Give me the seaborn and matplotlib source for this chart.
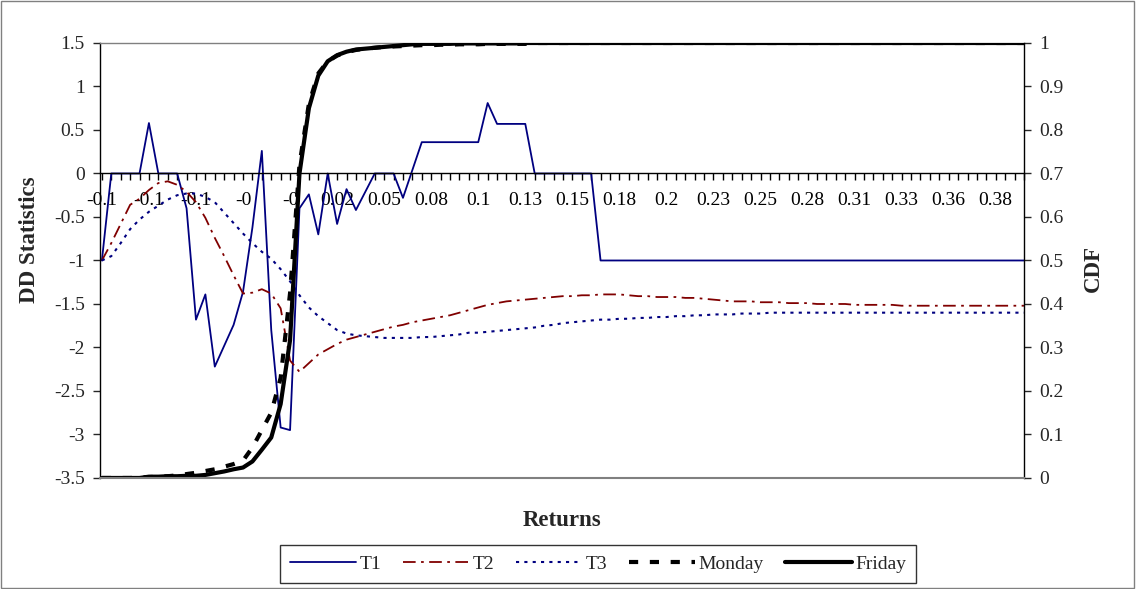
import numpy as np
import pandas as pd
import seaborn as sns
import matplotlib
matplotlib.use("Agg")
import matplotlib.pyplot as plt
from matplotlib.ticker import FuncFormatter, MultipleLocator

# =========================================
# DATA
# =========================================

# category labels shown on the x axis (one every 5 categories)
return_labels = ["-0.1", "-0.1", "-0.1", "-0", "-0", "0.02", "0.05", "0.08", "0.1", "0.13",
                 "0.15", "0.18", "0.2", "0.23", "0.25", "0.28", "0.31", "0.33", "0.36", "0.38"]

t1 = [-1.0, 0, 0, 0, 0, 0.58, 0, 0, 0, -0.40,
      -1.68, -1.39, -2.22, -1.98, -1.74, -1.36, -0.62, 0.26, -1.80, -2.92,
      -2.95, -0.40, -0.24, -0.70, 0, -0.58, -0.18, -0.42, -0.21, 0,
      0, 0, -0.28, 0.04, 0.36, 0.36, 0.36, 0.36, 0.36, 0.36,
      0.36, 0.81, 0.57, 0.57, 0.57, 0.57, 0, 0, 0, 0,
      0, 0, 0, -1.0, -1.0, -1.0, -1.0, -1.0, -1.0, -1.0,
      -1.0, -1.0, -1.0, -1.0, -1.0, -1.0, -1.0, -1.0, -1.0, -1.0,
      -1.0, -1.0, -1.0, -1.0, -1.0, -1.0, -1.0, -1.0, -1.0, -1.0,
      -1.0, -1.0, -1.0, -1.0, -1.0, -1.0, -1.0, -1.0, -1.0, -1.0,
      -1.0, -1.0, -1.0, -1.0, -1.0, -1.0, -1.0, -1.0, -1.0]

t2 = [-1.0, -0.80, -0.58, -0.36, -0.29, -0.19, -0.11, -0.09, -0.13, -0.21,
      -0.33, -0.51, -0.74, -0.95, -1.17, -1.38, -1.37, -1.33, -1.38, -1.55,
      -2.15, -2.28, -2.18, -2.08, -2.02, -1.96, -1.91, -1.88, -1.85, -1.82,
      -1.79, -1.76, -1.74, -1.71, -1.69, -1.67, -1.65, -1.63, -1.60, -1.57,
      -1.54, -1.51, -1.49, -1.47, -1.46, -1.45, -1.44, -1.43, -1.42, -1.41,
      -1.41, -1.40, -1.40, -1.39, -1.39, -1.39, -1.40, -1.41, -1.41, -1.42,
      -1.42, -1.42, -1.43, -1.43, -1.44, -1.45, -1.46, -1.47, -1.47, -1.47,
      -1.48, -1.48, -1.48, -1.49, -1.49, -1.49, -1.50, -1.50, -1.50, -1.50,
      -1.51, -1.51, -1.51, -1.51, -1.51, -1.52, -1.52, -1.52, -1.52, -1.52,
      -1.52, -1.52, -1.52, -1.52, -1.52, -1.52, -1.52, -1.52, -1.52]

t3 = [-1.0, -0.95, -0.80, -0.64, -0.53, -0.44, -0.37, -0.30, -0.25, -0.23,
      -0.23, -0.27, -0.33, -0.45, -0.57, -0.69, -0.80, -0.90, -0.98, -1.10,
      -1.24, -1.40, -1.54, -1.64, -1.72, -1.80, -1.84, -1.86, -1.87, -1.88,
      -1.89, -1.89, -1.89, -1.89, -1.88, -1.88, -1.87, -1.86, -1.85, -1.83,
      -1.83, -1.82, -1.81, -1.80, -1.79, -1.78, -1.77, -1.75, -1.74, -1.72,
      -1.71, -1.70, -1.69, -1.68, -1.68, -1.67, -1.67, -1.66, -1.66, -1.65,
      -1.65, -1.64, -1.64, -1.63, -1.63, -1.62, -1.62, -1.62, -1.61, -1.61,
      -1.61, -1.60, -1.60, -1.60, -1.60, -1.60, -1.60, -1.60, -1.60, -1.60,
      -1.60, -1.60, -1.60, -1.60, -1.60, -1.60, -1.60, -1.60, -1.60, -1.60,
      -1.60, -1.60, -1.60, -1.60, -1.60, -1.60, -1.60, -1.60, -1.60]

monday = [0.0, 0.0, 0.0, 0.0, 0.001, 0.002, 0.003, 0.004, 0.006, 0.009,
          0.012, 0.016, 0.020, 0.026, 0.032, 0.040, 0.070, 0.110, 0.150, 0.230,
          0.425, 0.720, 0.860, 0.930, 0.958, 0.971, 0.979, 0.984, 0.987, 0.989,
          0.991, 0.992, 0.993, 0.994, 0.995, 0.995, 0.996, 0.996, 0.997, 0.997,
          0.997, 0.998, 0.998, 0.998, 0.998, 0.998, 1.0, 1.0, 1.0, 1.0,
          1.0, 1.0, 1.0, 1.0, 1.0, 1.0, 1.0, 1.0, 1.0, 1.0,
          1.0, 1.0, 1.0, 1.0, 1.0, 1.0, 1.0, 1.0, 1.0, 1.0,
          1.0, 1.0, 1.0, 1.0, 1.0, 1.0, 1.0, 1.0, 1.0, 1.0,
          1.0, 1.0, 1.0, 1.0, 1.0, 1.0, 1.0, 1.0, 1.0, 1.0,
          1.0, 1.0, 1.0, 1.0, 1.0, 1.0, 1.0, 1.0, 1.0]

friday = [0.0, 0.0, 0.0, 0.0, 0.0, 0.003, 0.003, 0.004, 0.004, 0.005,
          0.005, 0.007, 0.011, 0.015, 0.020, 0.024, 0.038, 0.065, 0.093, 0.170,
          0.317, 0.700, 0.850, 0.925, 0.958, 0.972, 0.980, 0.985, 0.987, 0.989,
          0.991, 0.993, 0.995, 0.997, 0.998, 0.998, 0.998, 0.998, 0.999, 0.999,
          0.999, 0.999, 0.999, 0.999, 0.999, 1.0, 1.0, 1.0, 1.0, 1.0,
          1.0, 1.0, 1.0, 1.0, 1.0, 1.0, 1.0, 1.0, 1.0, 1.0,
          1.0, 1.0, 1.0, 1.0, 1.0, 1.0, 1.0, 1.0, 1.0, 1.0,
          1.0, 1.0, 1.0, 1.0, 1.0, 1.0, 1.0, 1.0, 1.0, 1.0,
          1.0, 1.0, 1.0, 1.0, 1.0, 1.0, 1.0, 1.0, 1.0, 1.0,
          1.0, 1.0, 1.0, 1.0, 1.0, 1.0, 1.0, 1.0, 1.0]

df = pd.DataFrame({"cat": range(len(t1)), "T1": t1, "T2": t2, "T3": t3,
                   "Monday": monday, "Friday": friday})

# =========================================
# STYLE
# =========================================

sns.set_style("white")
plt.rcParams["font.family"] = ["Liberation Serif", "DejaVu Serif"]
plt.rcParams["axes.unicode_minus"] = False

navy = "#000080"
maroon = "#800000"

fig = plt.figure(figsize=(11.39, 5.89), dpi=100)
ax = fig.add_axes([0.0878, 0.1885, 0.8112, 0.7385])
ax2 = ax.twinx()

# =========================================
# LINES
# =========================================

sns.lineplot(data=df, x="cat", y="T1", ax=ax, color=navy, linewidth=1.3, label="T1", legend=False)
sns.lineplot(data=df, x="cat", y="T2", ax=ax, color=maroon, linewidth=1.3,
             dashes=False, label="T2", legend=False)
ax.lines[-1].set_linestyle((0, (7, 3, 1.5, 3)))
sns.lineplot(data=df, x="cat", y="T3", ax=ax, color=navy, linewidth=1.5, label="T3", legend=False)
ax.lines[-1].set_linestyle((0, (1.5, 2.5)))

sns.lineplot(data=df, x="cat", y="Monday", ax=ax2, color="black", linewidth=3.0,
             label="Monday", legend=False)
ax2.lines[-1].set_linestyle((0, (2.2, 2.8)))
sns.lineplot(data=df, x="cat", y="Friday", ax=ax2, color="black", linewidth=3.0,
             label="Friday", legend=False)

# =========================================
# AXES
# =========================================

ax.set_xlim(-0.2, len(t1) - 1)
ax.set_ylim(-3.5, 1.5)
ax2.set_ylim(0, 1)

ax.yaxis.set_major_locator(MultipleLocator(0.5))
ax2.yaxis.set_major_locator(MultipleLocator(0.1))
fmt = FuncFormatter(lambda v, p: "%g" % round(v, 2))
ax.yaxis.set_major_formatter(fmt)
ax2.yaxis.set_major_formatter(fmt)

ax.set_xticks(range(0, len(t1), 5)[:len(return_labels)])
ax.set_xticklabels(return_labels)
ax.set_xticks(range(len(t1)), minor=True)

ax.spines["bottom"].set_position(("data", 0))
ax.spines["bottom"].set_color("black")
ax.spines["left"].set_color("black")
ax.spines["top"].set_color("#808080")
ax.spines["right"].set_visible(False)
ax2.spines["right"].set_color("black")
ax2.spines["bottom"].set_color("#808080")
ax2.spines["left"].set_visible(False)
ax2.spines["top"].set_visible(False)
for sp in ["bottom", "left", "top"]:
    ax.spines[sp].set_linewidth(1.0)
ax2.spines["right"].set_linewidth(1.0)
ax2.spines["bottom"].set_linewidth(1.5)

ax.tick_params(axis="x", which="both", direction="out", length=5, width=1, colors="black",
               labelsize=14, pad=8, bottom=True)
ax.tick_params(axis="y", direction="out", length=5, width=1, labelsize=14, pad=6, left=True)
ax2.tick_params(axis="y", direction="out", length=5, width=1, labelsize=14, pad=6, right=True)

ax.set_xlabel("")
ax.set_ylabel("")
ax2.set_ylabel("")
ax.grid(False)
ax2.grid(False)

fig.text(0.026, 1 - 240 / 589, "DD Statistics", rotation=90, ha="center", va="center",
         fontsize=16.5, fontweight="bold")
fig.text(1093 / 1139, 1 - 268 / 589, "CDF", rotation=90, ha="center", va="center",
         fontsize=16.5, fontweight="bold")
fig.text(562 / 1139, 1 - 520 / 589, "Returns", ha="center", va="center",
         fontsize=16.5, fontweight="bold")

# =========================================
# LEGEND
# =========================================

handles = ax.lines[:3] + ax2.lines[:2]
labels = ["T1", "T2", "T3", "Monday", "Friday"]
leg = fig.legend(handles, labels, loc="center", bbox_to_anchor=(598 / 1139, 1 - 564 / 589),
                 ncol=5, fontsize=14, frameon=True, fancybox=False, edgecolor="black",
                 handlelength=3.4, handletextpad=0.2, columnspacing=1.1, borderpad=0.5)
leg.get_frame().set_linewidth(1.0)

fig.patches.append(plt.Rectangle((0.001, 0.001), 1133 / 1139, 0.997, transform=fig.transFigure,
                                 fill=False, edgecolor="#808080", linewidth=1.0))

fig.savefig("out.png", dpi=100)
